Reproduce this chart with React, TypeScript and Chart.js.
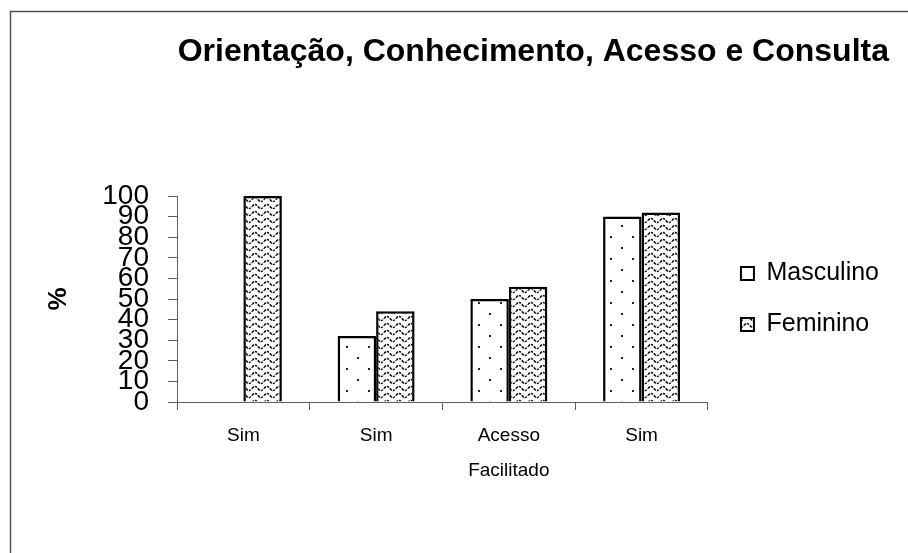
import React, { useEffect, useRef } from 'react';
import { Chart, registerables } from 'chart.js';

Chart.register(...registerables);

const TITLE = 'Orientação, Conhecimento, Acesso e Consulta';
const CATEGORIES: (string | string[])[] = ['Sim', 'Sim', ['Acesso', 'Facilitado'], 'Sim'];
const SERIES_NAMES = ['Masculino', 'Feminino'];
const MASCULINO = [0, 32, 50, 90];
const FEMININO = [100, 44, 56, 92];
const Y_MIN = 0;
const Y_MAX = 100;
const Y_STEP = 10;
const Y_TITLE = '%';

const FONT = '"Liberation Sans", Arial, sans-serif';

function dotPattern(): CanvasPattern {
  const c = document.createElement('canvas');
  c.width = 22;
  c.height = 22;
  const g = c.getContext('2d')!;
  g.fillStyle = '#ffffff';
  g.fillRect(0, 0, 22, 22);
  g.fillStyle = '#222222';
  g.fillRect(5, 5, 2, 2);
  g.fillRect(16, 16, 2, 2);
  return g.createPattern(c, 'repeat')!;
}

function wavePattern(): CanvasPattern {
  const w = 12;
  const h = 7;
  const c = document.createElement('canvas');
  c.width = w;
  c.height = h;
  const g = c.getContext('2d')!;
  g.fillStyle = '#ffffff';
  g.fillRect(0, 0, w, h);
  g.strokeStyle = '#111111';
  g.lineWidth = 1.5;
  g.setLineDash([2.5, 1]);
  g.beginPath();
  g.moveTo(0, 3.5);
  g.quadraticCurveTo(3, -0.5, 6, 3.5);
  g.quadraticCurveTo(9, 7.5, 12, 3.5);
  g.stroke();
  return g.createPattern(c, 'repeat')!;
}

const frame = {
  id: 'frame',
  beforeDraw(chart: any) {
    const ctx = chart.ctx;
    ctx.save();
    ctx.fillStyle = '#ffffff';
    ctx.fillRect(0, 0, chart.width, chart.height);
    ctx.strokeStyle = '#505050';
    ctx.lineWidth = 1.5;
    ctx.beginPath();
    ctx.moveTo(10.5, chart.height + 2);
    ctx.lineTo(10.5, 11.5);
    ctx.lineTo(chart.width + 2, 11.5);
    ctx.stroke();
    ctx.restore();
  },
};

export default function App() {
  const ref = useRef<HTMLCanvasElement>(null);

  useEffect(() => {
    if (!ref.current) return;
    const barBorder = (ctx: any) => (ctx.raw === 0 ? 0 : 2.5);
    const chart = new Chart(ref.current, {
      type: 'bar',
      data: {
        labels: CATEGORIES,
        datasets: [
          {
            label: SERIES_NAMES[0],
            data: MASCULINO,
            backgroundColor: dotPattern(),
            borderColor: '#000000',
            borderWidth: barBorder,
            borderSkipped: 'start',
            barPercentage: 1,
            categoryPercentage: 0.58,
          },
          {
            label: SERIES_NAMES[1],
            data: FEMININO,
            backgroundColor: wavePattern(),
            borderColor: '#000000',
            borderWidth: barBorder,
            borderSkipped: 'start',
            barPercentage: 1,
            categoryPercentage: 0.58,
          },
        ],
      },
      options: {
        responsive: false,
        animation: false,
        layout: { padding: { left: 10, right: 19, top: 0, bottom: 0 } },
        plugins: {
          title: {
            display: true,
            text: TITLE,
            align: 'end',
            color: '#000000',
            font: { family: FONT, size: 32, weight: 'bold' },
            padding: { top: 33, bottom: 124.6 },
          },
          legend: {
            display: true,
            position: 'right',
            align: 'center',
            fullSize: false,
            maxWidth: 320,
            labels: {
              color: '#000000',
              font: { family: FONT, size: 25 },
              boxWidth: 13,
              boxHeight: 13,
              padding: 26,
              generateLabels: (ch: any) =>
                (Chart.defaults.plugins.legend.labels.generateLabels as any)(ch).map((l: any) => ({
                  ...l,
                  lineWidth: 2,
                  strokeStyle: '#000000',
                })),
            },
          },
          tooltip: { enabled: false },
        },
        scales: {
          x: {
            grid: {
              display: true,
              drawOnChartArea: false,
              drawTicks: true,
              tickLength: 8,
              color: '#606060',
              offset: true,
            },
            border: { display: true, color: '#606060', width: 1 },
            ticks: {
              color: '#000000',
              font: { family: FONT, size: 19, lineHeight: 1.8 },
              padding: 9,
              maxRotation: 0,
              autoSkip: false,
            },
            afterFit: (s: any) => {
              s.height = 151;
            },
          },
          y: {
            min: Y_MIN,
            max: Y_MAX,
            grid: {
              display: true,
              drawOnChartArea: false,
              drawTicks: true,
              tickLength: 9,
              color: '#606060',
            },
            border: { display: true, color: '#606060', width: 1 },
            ticks: {
              stepSize: Y_STEP,
              autoSkip: false,
              color: '#000000',
              font: { family: FONT, size: 28 },
              padding: 19,
            },
            title: {
              display: true,
              text: Y_TITLE,
              color: '#000000',
              font: { family: FONT, size: 26, weight: 'bold' },
              padding: { top: 33, bottom: 0 },
            },
            afterFit: (s: any) => {
              s.width = 167;
            },
          },
          gap: {
            type: 'linear',
            position: 'right',
            display: true,
            grid: { display: false, drawTicks: false },
            ticks: { display: false },
            border: { display: false },
            afterFit: (s: any) => {
              s.width = 7;
            },
          },
        },
      } as any,
      plugins: [frame],
    });
    return () => chart.destroy();
  }, []);

  return (
    <div style={{ position: 'absolute', left: 0, top: 0, width: 908, height: 553 }}>
      <canvas ref={ref} width={908} height={553} style={{ display: 'block' }} />
    </div>
  );
}
